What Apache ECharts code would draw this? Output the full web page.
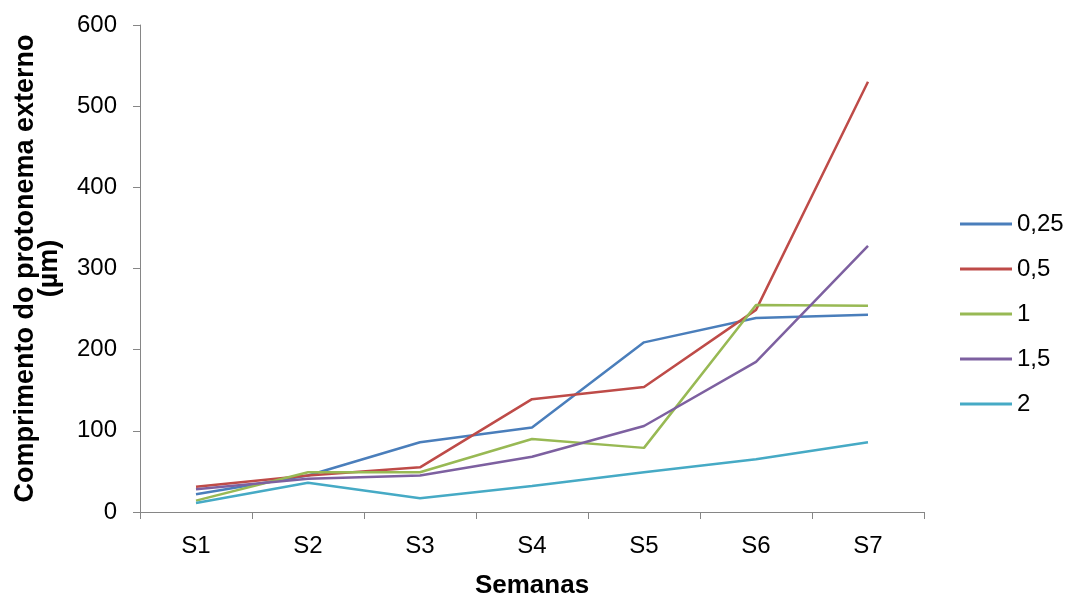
<!DOCTYPE html>
<html>
<head>
<meta charset="utf-8">
<script src="https://cdn.jsdelivr.net/npm/echarts@6/dist/echarts.min.js"></script>
<style>html,body{margin:0;padding:0;background:#fff;}#c{width:1075px;height:596px;}</style>
</head>
<body>
<div id="c"></div>
<script>
const categories = ['S1','S2','S3','S4','S5','S6','S7'];
const seriesNames = ['0,25','0,5','1','1,5','2'];
const s025 = [22, 45, 86, 104, 209, 239, 243];
const s05  = [31, 45, 55, 139, 154, 249, 530];
const s1   = [14, 49, 49, 90, 79, 255, 254];
const s15  = [28, 41, 45, 68, 106, 185, 328];
const s2   = [11, 36, 17, 32, 49, 65, 86];
const values = [s025, s05, s1, s15, s2];
const colors = ['#4A7EBB','#BE4B48','#98B954','#7D60A0','#46AAC5'];
const yTicks = {min: 0, max: 600, interval: 100};

const chart = echarts.init(document.getElementById('c'), null, {renderer: 'canvas'});
const font = 'Liberation Sans, Arial, sans-serif';
chart.setOption({
  animation: false,
  backgroundColor: '#ffffff',
  grid: {left: 140, right: 151, top: 25, bottom: 84, containLabel: false, outerBoundsMode: 'none'},
  legend: {
    orient: 'vertical',
    left: 960, top: 212,
    padding: 0,
    itemWidth: 52, itemHeight: 3, itemGap: 21,
    icon: 'rect',
    textStyle: {fontFamily: font, fontSize: 24, color: '#000'},
    data: seriesNames
  },
  xAxis: {
    type: 'category',
    data: categories,
    boundaryGap: true,
    name: 'Semanas',
    nameLocation: 'middle',
    nameGap: 61,
    nameTextStyle: {fontFamily: font, fontSize: 26, fontWeight: 'bold', color: '#000'},
    axisLine: {lineStyle: {color: '#868686', width: 1}},
    axisTick: {show: true, length: 7, lineStyle: {color: '#868686'}},
    axisLabel: {fontFamily: font, fontSize: 24, color: '#000', margin: 22},
    splitLine: {show: false}
  },
  yAxis: {
    type: 'value',
    min: yTicks.min, max: yTicks.max, interval: yTicks.interval,
    name: 'Comprimento do protonema externo\n(µm)',
    nameLocation: 'middle',
    nameRotate: 90,
    nameGap: 78,
    nameTextStyle: {fontFamily: font, fontSize: 27, fontWeight: 'bold', color: '#000', lineHeight: 24},
    axisLine: {show: true, lineStyle: {color: '#868686', width: 1}},
    axisTick: {show: true, length: 7, lineStyle: {color: '#868686'}},
    axisLabel: {fontFamily: font, fontSize: 24, color: '#000', margin: 23},
    splitLine: {show: false}
  },
  series: values.map((v, i) => ({
    name: seriesNames[i],
    type: 'line',
    data: v,
    symbol: 'none',
    lineStyle: {color: colors[i], width: 2.5},
    itemStyle: {color: colors[i]}
  }))
});
</script>
</body>
</html>
